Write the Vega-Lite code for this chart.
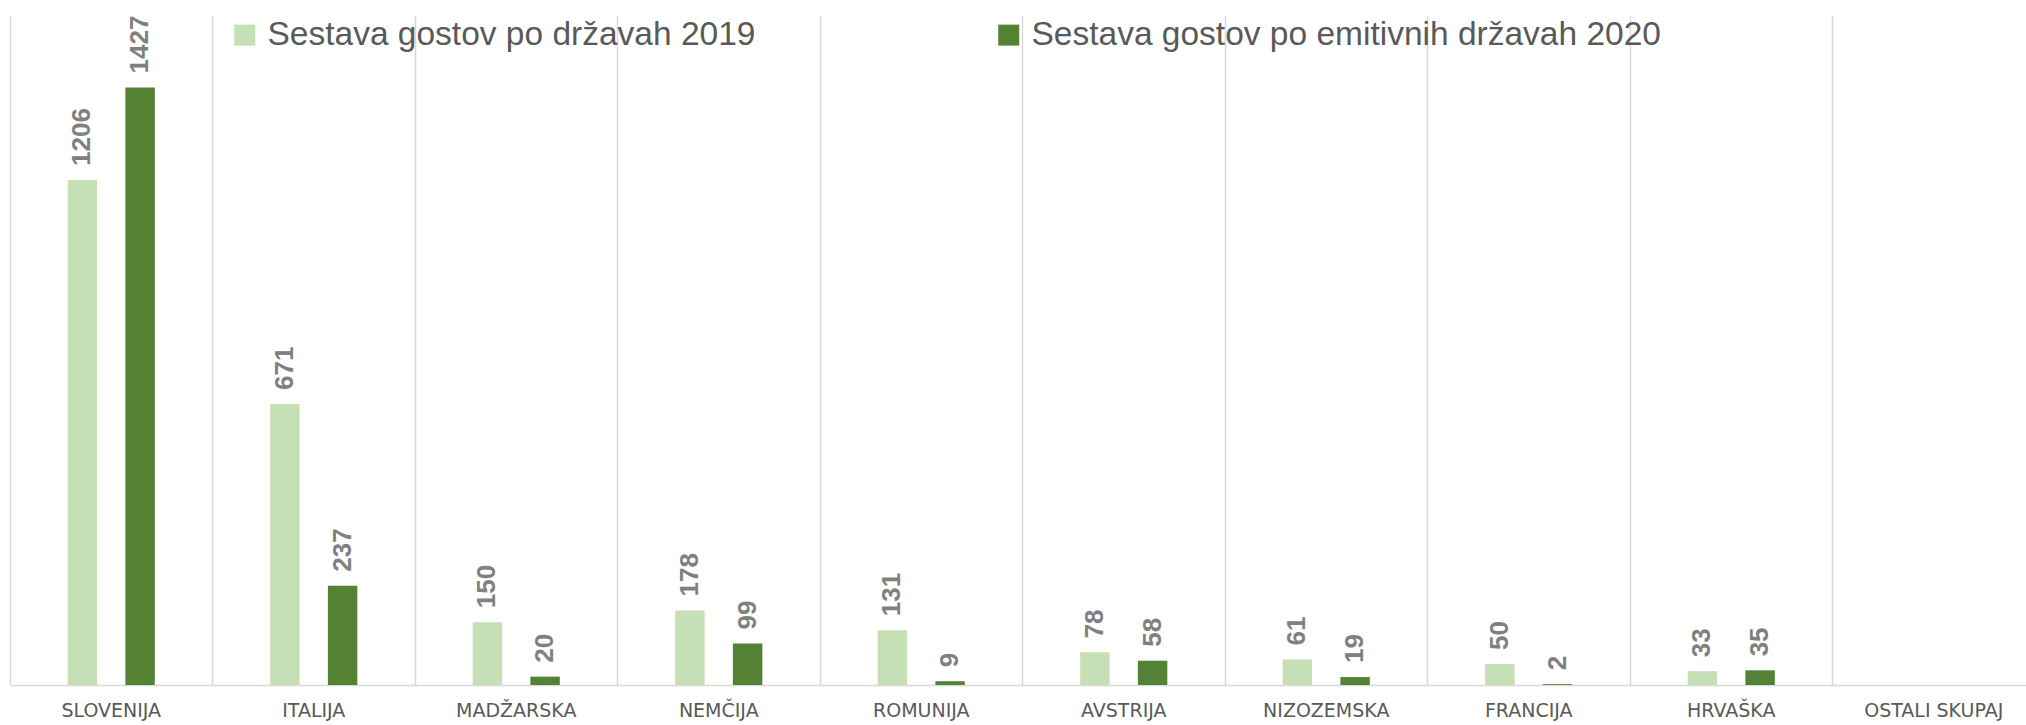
{
  "$schema": "https://vega.github.io/schema/vega-lite/v6.json",
  "width": 2016,
  "height": 670,
  "autosize": {"type": "none"},
  "padding": {"left": 10, "top": 15, "right": 0, "bottom": 40},
  "background": "white",
  "config": {"view": {"stroke": null}},
  "data": {
    "values": [
      {"drzava": "SLOVENIJA", "serija": "Sestava gostov po državah 2019", "gostje": 1206},
      {"drzava": "SLOVENIJA", "serija": "Sestava gostov po emitivnih državah 2020", "gostje": 1427},
      {"drzava": "ITALIJA", "serija": "Sestava gostov po državah 2019", "gostje": 671},
      {"drzava": "ITALIJA", "serija": "Sestava gostov po emitivnih državah 2020", "gostje": 237},
      {"drzava": "MADŽARSKA", "serija": "Sestava gostov po državah 2019", "gostje": 150},
      {"drzava": "MADŽARSKA", "serija": "Sestava gostov po emitivnih državah 2020", "gostje": 20},
      {"drzava": "NEMČIJA", "serija": "Sestava gostov po državah 2019", "gostje": 178},
      {"drzava": "NEMČIJA", "serija": "Sestava gostov po emitivnih državah 2020", "gostje": 99},
      {"drzava": "ROMUNIJA", "serija": "Sestava gostov po državah 2019", "gostje": 131},
      {"drzava": "ROMUNIJA", "serija": "Sestava gostov po emitivnih državah 2020", "gostje": 9},
      {"drzava": "AVSTRIJA", "serija": "Sestava gostov po državah 2019", "gostje": 78},
      {"drzava": "AVSTRIJA", "serija": "Sestava gostov po emitivnih državah 2020", "gostje": 58},
      {"drzava": "NIZOZEMSKA", "serija": "Sestava gostov po državah 2019", "gostje": 61},
      {"drzava": "NIZOZEMSKA", "serija": "Sestava gostov po emitivnih državah 2020", "gostje": 19},
      {"drzava": "FRANCIJA", "serija": "Sestava gostov po državah 2019", "gostje": 50},
      {"drzava": "FRANCIJA", "serija": "Sestava gostov po emitivnih državah 2020", "gostje": 2},
      {"drzava": "HRVAŠKA", "serija": "Sestava gostov po državah 2019", "gostje": 33},
      {"drzava": "HRVAŠKA", "serija": "Sestava gostov po emitivnih državah 2020", "gostje": 35}
    ]
  },
  "encoding": {
    "x": {
      "field": "drzava",
      "type": "nominal",
      "sort": null,
      "scale": {
        "domain": ["SLOVENIJA", "ITALIJA", "MADŽARSKA", "NEMČIJA", "ROMUNIJA", "AVSTRIJA", "NIZOZEMSKA", "FRANCIJA", "HRVAŠKA", "OSTALI SKUPAJ"],
        "range": [0, 2025],
        "paddingInner": 0,
        "paddingOuter": 0
      },
      "axis": {
        "title": null,
        "labelAngle": 0,
        "ticks": false,
        "grid": true,
        "bandPosition": 0,
        "gridColor": "#d9d9d9",
        "gridWidth": 1.5,
        "domainColor": "#d9d9d9",
        "domainWidth": 1.5,
        "labelFont": "DejaVu Sans",
        "labelFontSize": 19,
        "labelColor": "#595959",
        "labelPadding": 16
      }
    },
    "xOffset": {
      "field": "serija",
      "type": "nominal",
      "scale": {"paddingInner": 0.49, "paddingOuter": 1.155}
    },
    "y": {
      "field": "gostje",
      "type": "quantitative",
      "scale": {"domain": [0, 1600], "nice": false},
      "axis": null
    }
  },
  "layer": [
    {
      "mark": {"type": "bar"},
      "encoding": {
        "color": {
          "field": "serija",
          "type": "nominal",
          "scale": {"range": ["#c5e0b4", "#548235"]},
          "legend": {
            "title": null,
            "orient": "none",
            "direction": "horizontal",
            "legendX": 218,
            "legendY": 3,
            "padding": 0,
            "symbolType": "square",
            "symbolSize": 441,
            "symbolStrokeWidth": 0,
            "symbolOpacity": 1,
            "labelFont": "Liberation Sans",
            "labelFontSize": 33.5,
            "labelColor": "#595959",
            "labelOffset": 6,
            "labelLimit": 1000,
            "columnPadding": 236
          }
        }
      }
    },
    {
      "mark": {
        "type": "text",
        "angle": -90,
        "align": "left",
        "baseline": "middle",
        "dx": 14,
        "font": "Liberation Sans",
        "fontWeight": "bold",
        "fontSize": 26,
        "color": "#808080"
      },
      "encoding": {
        "text": {"field": "gostje", "type": "quantitative"}
      }
    }
  ]
}
